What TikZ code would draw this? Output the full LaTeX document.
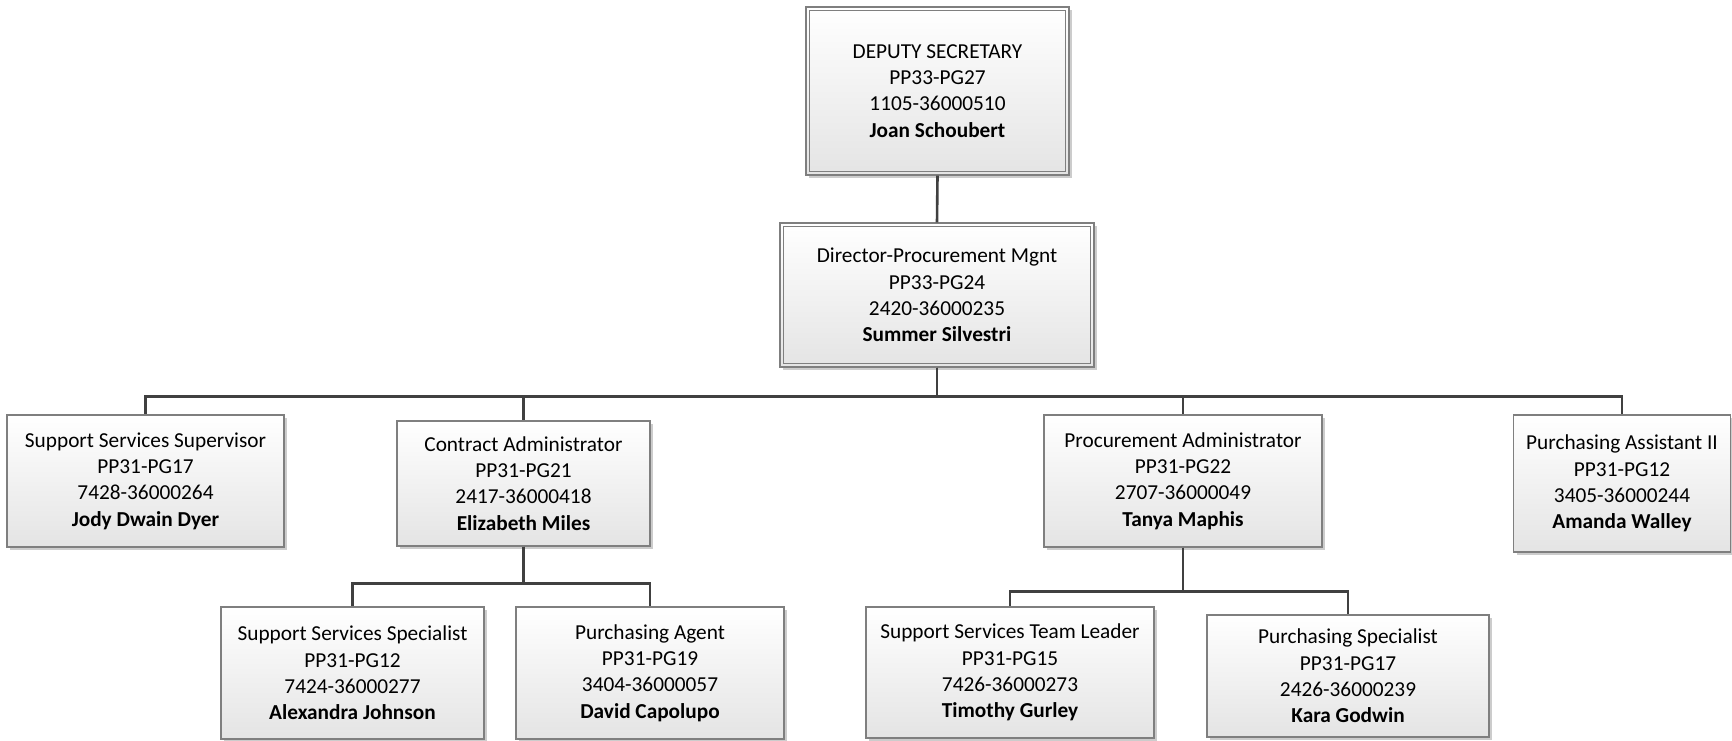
\documentclass[tikz,border=0pt]{standalone}
\usepackage{fontspec}
\setmainfont{Carlito}
\usetikzlibrary{shadows}
\definecolor{boxborder}{HTML}{7F7F7F}
\definecolor{linkcol}{HTML}{404040}
\definecolor{boxshade}{HTML}{E4E4E4}
\begin{document}
\begin{tikzpicture}[x=1pt,y=-1pt,
  orgbox/.style={rectangle, draw=boxborder, line width=1.2pt, inner sep=0pt,
    top color=white, bottom color=boxshade, align=center,
    font=\fontsize{21.3}{26.3}\selectfont,
    drop shadow={shadow xshift=3pt, shadow yshift=-3pt, fill=black!40, opacity=.5}},
  innerline/.style={draw=boxborder, line width=1.2pt},
  conn/.style={draw=linkcol, line width=2.6pt}]
\useasboundingbox (0,0) rectangle (1732,740);

% top of the hierarchy
\node[orgbox, minimum width=263pt, minimum height=168pt] (dep) at (937.5,91)
  {DEPUTY SECRETARY\\PP33-PG27\\1105-36000510\\\textbf{Joan Schoubert}};
\draw[innerline] ([shift={(4pt,-4pt)}]dep.north west) rectangle ([shift={(-4pt,4pt)}]dep.south east);

\node[orgbox, minimum width=314pt, minimum height=144pt] (dir) at (937,295)
  {Director-Procurement Mgnt\\PP33-PG24\\2420-36000235\\\textbf{Summer Silvestri}};
\draw[innerline] ([shift={(4pt,-4pt)}]dir.north west) rectangle ([shift={(-4pt,4pt)}]dir.south east);

% second level
\node[orgbox, minimum width=277pt, minimum height=132pt] (sup) at (145.5,481)
  {Support Services Supervisor\\PP31-PG17\\7428-36000264\\\textbf{Jody Dwain Dyer}};
\node[orgbox, minimum width=253pt, minimum height=125pt] (con) at (523.5,483.5)
  {Contract Administrator\\PP31-PG21\\2417-36000418\\\textbf{Elizabeth Miles}};
\node[orgbox, minimum width=278pt, minimum height=132pt] (pro) at (1183,481)
  {Procurement Administrator\\PP31-PG22\\2707-36000049\\\textbf{Tanya Maphis}};
\node[orgbox, minimum width=217pt, minimum height=137pt] (pa2) at (1622,483.5)
  {Purchasing Assistant II\\PP31-PG12\\3405-36000244\\\textbf{Amanda Walley}};

% third level
\node[orgbox, minimum width=263pt, minimum height=132pt] (ssp) at (352.5,673)
  {Support Services Specialist\\PP31-PG12\\7424-36000277\\\textbf{Alexandra Johnson}};
\node[orgbox, minimum width=268pt, minimum height=132pt] (agt) at (650,673)
  {Purchasing Agent\\PP31-PG19\\3404-36000057\\\textbf{David Capolupo}};
\node[orgbox, minimum width=288pt, minimum height=131pt] (tl) at (1010,672.5)
  {Support Services Team Leader\\PP31-PG15\\7426-36000273\\\textbf{Timothy Gurley}};
\node[orgbox, minimum width=282pt, minimum height=122pt] (psp) at (1348,676)
  {Purchasing Specialist\\PP31-PG17\\2426-36000239\\\textbf{Kara Godwin}};

% reporting lines
\draw[conn] (dep.south) -- (dir.north);
\draw[conn] (dir.south) -- ++(0,29) -| (sup.north);
\draw[conn] (dir.south) -- ++(0,29) -| (con.north);
\draw[conn] (dir.south) -- ++(0,29) -| (pro.north);
\draw[conn] (dir.south) -- ++(0,29) -| (pa2.north);
\draw[conn] (con.south) -- ++(0,37) -| (ssp.north);
\draw[conn] (con.south) -- ++(0,37) -| (agt.north);
\draw[conn] (pro.south) -- ++(0,44) -| (tl.north);
\draw[conn] (pro.south) -- ++(0,44) -| (psp.north);
\end{tikzpicture}
\end{document}
